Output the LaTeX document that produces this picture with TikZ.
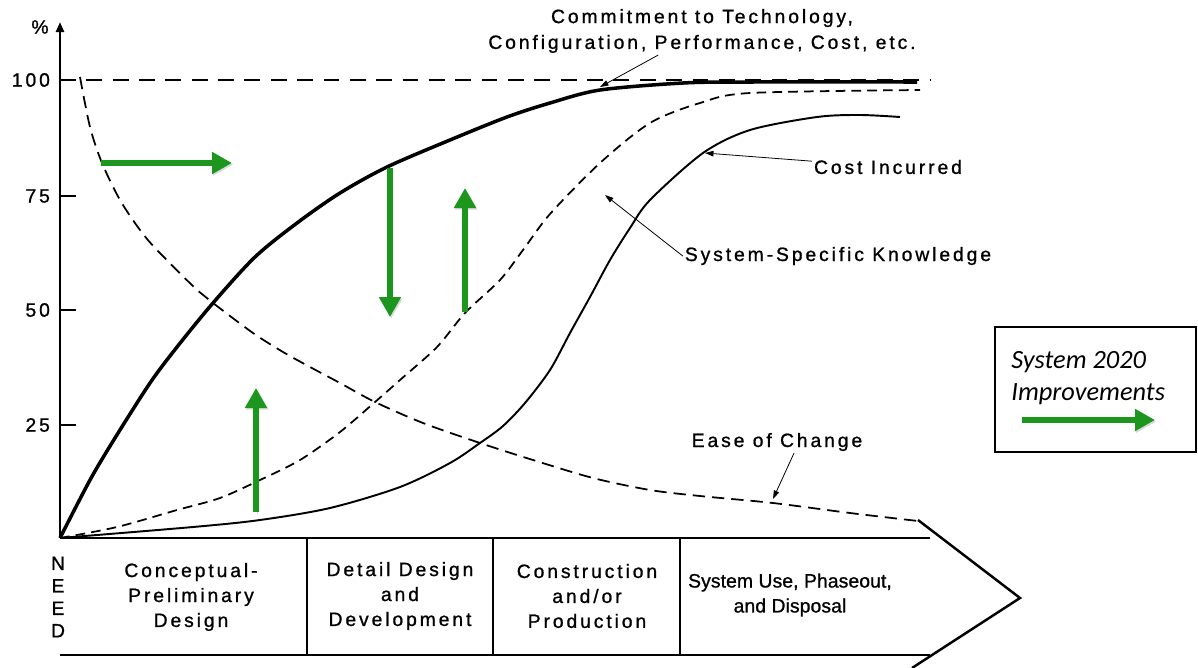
\documentclass[tikz,border=0pt]{standalone}
\usepackage{fontspec}
\setmainfont{Liberation Sans}[LetterSpace=15, FakeBold=1]
\newfontfamily\tightfont{Liberation Sans}[LetterSpace=0.5, FakeBold=1]
\newfontfamily\legendfont{Carlito}
\usetikzlibrary{arrows.meta}
\definecolor{impgreen}{RGB}{28,150,28}
\tikzset{
	lbl/.style={font=\fontsize{11}{14.2}\selectfont, align=center, inner sep=1pt},
	axis/.style={line width=1.4pt},
	divider/.style={line width=0.6pt},
	pointer/.style={-{Triangle[length=0.17cm,width=0.11cm]}, line width=0.45pt},
	improve/.style={impgreen, line width=3.6pt, -{Triangle[length=0.4cm,width=0.42cm]}, preaction={draw=black, opacity=0.15, transform canvas={shift={(0.7pt,-0.9pt)}}}},
	commitcurve/.style={line width=2pt, line join=round},
	costcurve/.style={line width=1.1pt, line join=round},
	knowcurve/.style={line width=1pt, dash pattern=on 5.5pt off 3.5pt},
	easecurve/.style={line width=1pt, dash pattern=on 7pt off 4pt},
	fullline/.style={line width=1pt, dash pattern=on 9pt off 6pt}
}

\begin{document}
\begin{tikzpicture}[x=0.02cm, y=-0.02cm]
			\useasboundingbox (0,0) rectangle (1198,667);
			\coordinate (origin) at (60,538);
			\coordinate (ytop) at (60,22);
			\coordinate (bandend) at (930,538);
			\coordinate (bandlow) at (60,655);
			\coordinate (bandlowend) at (930,655);
			\coordinate (chevtop) at (918,520);
			\coordinate (chevtip) at (1020,598);
			\coordinate (chevbot) at (912,668);
			\draw[axis, -{Triangle[length=0.2cm,width=0.16cm]}] (origin) -- (ytop);
			\draw[axis] (origin) -- (bandend) (bandlow) -- (bandlowend);
			\draw[axis] (chevtop) -- (chevtip) -- (chevbot);
			\foreach \x in {307,493,680}
				\draw[divider] (\x,538) -- (\x,655);
			\node[lbl] (pct) at (40,27) {\%};
			\foreach \v/\y in {100/80,75/196,50/310,25/425}
			{
				\draw[axis] (60,\y) -- (76,\y);
				\node[lbl, anchor=east] (tick\v) at (52,\y) {\v};
			}
			\draw[fullline] (60,80) -- (930,80);
			\draw[commitcurve] plot[smooth] coordinates {(60,538) (90,480) (115,438) (150,383) (177,347) (213,303) (255,257) (297,223) (340,193) (387,167) (450,140) (507,117) (550,103) (600,90) (683,83) (750,82) (917,82)};
			\draw[easecurve] plot[smooth] coordinates {(80,77) (90,127) (102,163) (120,200) (140,230) (157,250) (197,290) (213,303) (253,333) (283,352) (310,367) (340,383) (375,402) (423,423) (480,443) (533,460) (593,478) (650,490) (700,496) (773,503) (850,513) (918,521)};
			\draw[knowcurve] plot[smooth] coordinates {(60,538) (117,527) (177,510) (220,498) (260,480) (300,460) (340,432) (375,402) (400,380) (437,347) (465,313) (500,280) (523,250) (550,214) (600,163) (650,123) (700,103) (750,93) (920,90)};
			\draw[costcurve] plot[smooth] coordinates {(60,538) (193,527) (260,520) (330,508) (400,487) (450,463) (480,443) (503,426) (525,403) (550,370) (570,333) (590,297) (610,260) (630,228) (650,200) (703,153) (750,130) (817,117) (860,115) (900,117)};
			\node[lbl, font=\fontsize{11}{14.7}\selectfont] (commit) at (702,31) {Commitment to Technology,\\Configuration, Performance, Cost, etc.};
			\node[lbl] (cost) at (888,167) {Cost Incurred};
			\node[lbl] (know) at (838,256) {System-Specific Knowledge};
			\node[lbl] (ease) at (777,442) {Ease of Change};
			\coordinate (committip) at (600,87);
			\coordinate (costtip) at (705,153);
			\coordinate (knowtip) at (605,195);
			\coordinate (easetip) at (773,499);
			\path[pointer]
			(commit) edge (committip)
			(cost) edge (costtip)
			(know.west) edge (knowtip)
			([xshift=0.34cm]ease.south) edge (easetip);
			\node[lbl, font=\fontsize{11}{12.8}\selectfont] (need) at (58,597) {N\\E\\E\\D};
			\node[lbl] (concept) at (191,597) {Conceptual-\\Preliminary\\Design};
			\node[lbl] (detail) at (400,596) {Detail Design\\and\\Development};
			\node[lbl] (construct) at (587,596) {Construction\\and/or\\Production};
			\node[lbl, font=\tightfont\fontsize{11}{14.2}\selectfont] (use) at (790,595) {System Use, Phaseout,\\and Disposal};
			\node[draw, line width=0.9pt, minimum width=4.02cm, minimum height=2.5cm] (legend) at (1095.5,389.5) {};
			\node[anchor=west, align=left, inner sep=0pt, font=\legendfont\itshape\fontsize{15}{18}\selectfont] (legendtext) at (1011,378) {System 2020\\Improvements};
			\foreach \n/\xa/\ya/\xb/\yb in {shift/101/163/232/163, down/390/168/390/317, up/465/312/465/188, rise/256/512/256/388, legend/1022/420/1155/420}
			{
				\coordinate (\n-s) at (\xa,\ya);
				\coordinate (\n-e) at (\xb,\yb);
				\draw[improve] (\n-s) -- (\n-e);
			}
		\end{tikzpicture}
\end{document}
